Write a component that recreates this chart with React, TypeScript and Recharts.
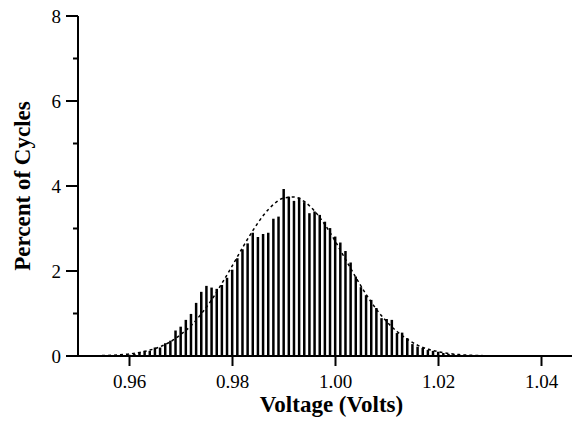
import React from 'react';
import { ComposedChart, Bar, Line, XAxis, YAxis, Label } from 'recharts';

const FONT = '"Liberation Serif", "Times New Roman", Times, serif';

// Histogram bins (bin voltage, V) and share of cycles in each bin (%)
const BIN_VOLTS = [
  0.960, 0.961, 0.962, 0.963, 0.964, 0.965, 0.966, 0.967, 0.968, 0.969,
  0.970, 0.971, 0.972, 0.973, 0.974, 0.975, 0.976, 0.977, 0.978, 0.979,
  0.980, 0.981, 0.982, 0.983, 0.984, 0.985, 0.986, 0.987, 0.988, 0.989,
  0.990, 0.991, 0.992, 0.993, 0.994, 0.995, 0.996, 0.997, 0.998, 0.999,
  1.000, 1.001, 1.002, 1.003, 1.004, 1.005, 1.006, 1.007, 1.008, 1.009,
  1.010, 1.011, 1.012, 1.013, 1.014, 1.015, 1.016, 1.017, 1.018, 1.019,
  1.020, 1.021, 1.022, 1.023, 1.024, 1.025, 1.026,
];
const CYCLE_PCT = [
  0.03, 0.05, 0.08, 0.12, 0.12, 0.20, 0.20, 0.30, 0.36, 0.60,
  0.69, 0.85, 0.99, 1.25, 1.51, 1.65, 1.61, 1.58, 1.67, 1.84,
  2.03, 2.30, 2.51, 2.65, 2.90, 2.80, 2.87, 2.90, 3.23, 3.28,
  3.93, 3.75, 3.65, 3.73, 3.62, 3.36, 3.40, 3.32, 3.16, 3.01,
  2.81, 2.67, 2.47, 2.20, 1.87, 1.62, 1.43, 1.32, 1.13, 0.89,
  0.87, 0.85, 0.54, 0.55, 0.42, 0.28, 0.22, 0.19, 0.14, 0.12,
  0.10, 0.07, 0.05, 0.04, 0.03, 0.02, 0.02,
];

// Fitted normal curve (dashed)
const FIT_VOLTS = [
  0.950, 0.954, 0.958, 0.960, 0.962, 0.964, 0.966, 0.968, 0.970, 0.972,
  0.974, 0.976, 0.978, 0.980, 0.982, 0.984, 0.986, 0.988, 0.990, 0.992,
  0.994, 0.996, 0.998, 1.000, 1.002, 1.004, 1.006, 1.008, 1.010, 1.012,
  1.014, 1.016, 1.018, 1.020, 1.022, 1.024, 1.026, 1.028, 1.030, 1.034,
];
const FIT_PCT = [
  0.002, 0.008, 0.028, 0.049, 0.085, 0.14, 0.22, 0.34, 0.51, 0.72,
  1.00, 1.33, 1.72, 2.13, 2.56, 2.96, 3.31, 3.57, 3.72, 3.74,
  3.63, 3.40, 3.08, 2.69, 2.26, 1.84, 1.44, 1.09, 0.80, 0.57,
  0.39, 0.25, 0.16, 0.10, 0.058, 0.033, 0.018, 0.010, 0.005, 0.001,
];

const X_TICKS = [0.96, 0.98, 1.0, 1.02, 1.04];
const Y_TICKS = [0, 1, 2, 3, 4, 5, 6, 7, 8];
const Y_LABELED = [0, 2, 4, 6, 8];

type Row = { v: number; pct: number | null; fit: number | null };

const keyOf = (v: number) => v.toFixed(3);
const rowMap = new Map<string, Row>();
BIN_VOLTS.forEach((v, i) => rowMap.set(keyOf(v), { v, pct: CYCLE_PCT[i], fit: null }));
FIT_VOLTS.forEach((v, i) => {
  const r = rowMap.get(keyOf(v));
  if (r) r.fit = FIT_PCT[i];
  else rowMap.set(keyOf(v), { v, pct: null, fit: FIT_PCT[i] });
});
const rows: Row[] = Array.from(rowMap.values()).sort((a, b) => a.v - b.v);

const YTick = (props: any) => {
  const { x, y, payload } = props;
  const labeled = Y_LABELED.includes(payload.value);
  return (
    <g>
      <line x1={x - (labeled ? 12 : 5)} x2={x} y1={y} y2={y} stroke="#000" strokeWidth={2} />
      {labeled && (
        <text x={x - 17} y={y} dy="0.35em" textAnchor="end" fontSize={19} fontFamily={FONT} fill="#000">
          {payload.value}
        </text>
      )}
    </g>
  );
};

const YTitle = (props: any) => {
  const vb = props.viewBox;
  const cx = vb.x + 14;
  const cy = vb.y + vb.height / 2;
  return (
    <text
      x={cx}
      y={cy}
      transform={`rotate(-90 ${cx} ${cy})`}
      textAnchor="middle"
      dominantBaseline="central"
      fontSize={23}
      fontWeight="bold"
      fontFamily={FONT}
      fill="#000"
    >
      Percent of Cycles
    </text>
  );
};

const XTitle = (props: any) => {
  const vb = props.viewBox;
  return (
    <text
      x={vb.x + vb.width / 2 - 4}
      y={vb.y + vb.height - 4}
      textAnchor="middle"
      fontSize={23}
      fontWeight="bold"
      fontFamily={FONT}
      fill="#000"
    >
      Voltage (Volts)
    </text>
  );
};

export default function App() {
  return (
    <div style={{ width: 572, height: 423, marginTop: -4, overflow: 'hidden', background: '#fff' }}>
      <ComposedChart
        width={585}
        height={423}
        data={rows}
        margin={{ top: 12, right: 0, bottom: 11, left: 0 }}
      >
        <XAxis
          dataKey="v"
          type="number"
          domain={[0.95, 1.05]}
          allowDataOverflow
          ticks={X_TICKS}
          tickFormatter={(v: number) => v.toFixed(2)}
          height={60}
          tickSize={10}
          tickMargin={9}
          axisLine={{ stroke: '#000', strokeWidth: 2 }}
          tickLine={{ stroke: '#000', strokeWidth: 2 }}
          tick={{ fill: '#000', fontSize: 19, fontFamily: FONT }}
        >
          <Label content={XTitle} />
        </XAxis>
        <YAxis
          type="number"
          domain={[0, 8]}
          ticks={Y_TICKS}
          interval={0}
          width={70}
          tickSize={0}
          tickMargin={0}
          tickLine={false}
          axisLine={{ stroke: '#000', strokeWidth: 2 }}
          tick={YTick}
        >
          <Label content={YTitle} />
        </YAxis>
        <Bar dataKey="pct" fill="#000" barSize={2.5} isAnimationActive={false} />
        <Line
          dataKey="fit"
          type="monotone"
          stroke="#000"
          strokeWidth={1.5}
          strokeDasharray="3 3"
          dot={false}
          connectNulls
          isAnimationActive={false}
        />
      </ComposedChart>
    </div>
  );
}
